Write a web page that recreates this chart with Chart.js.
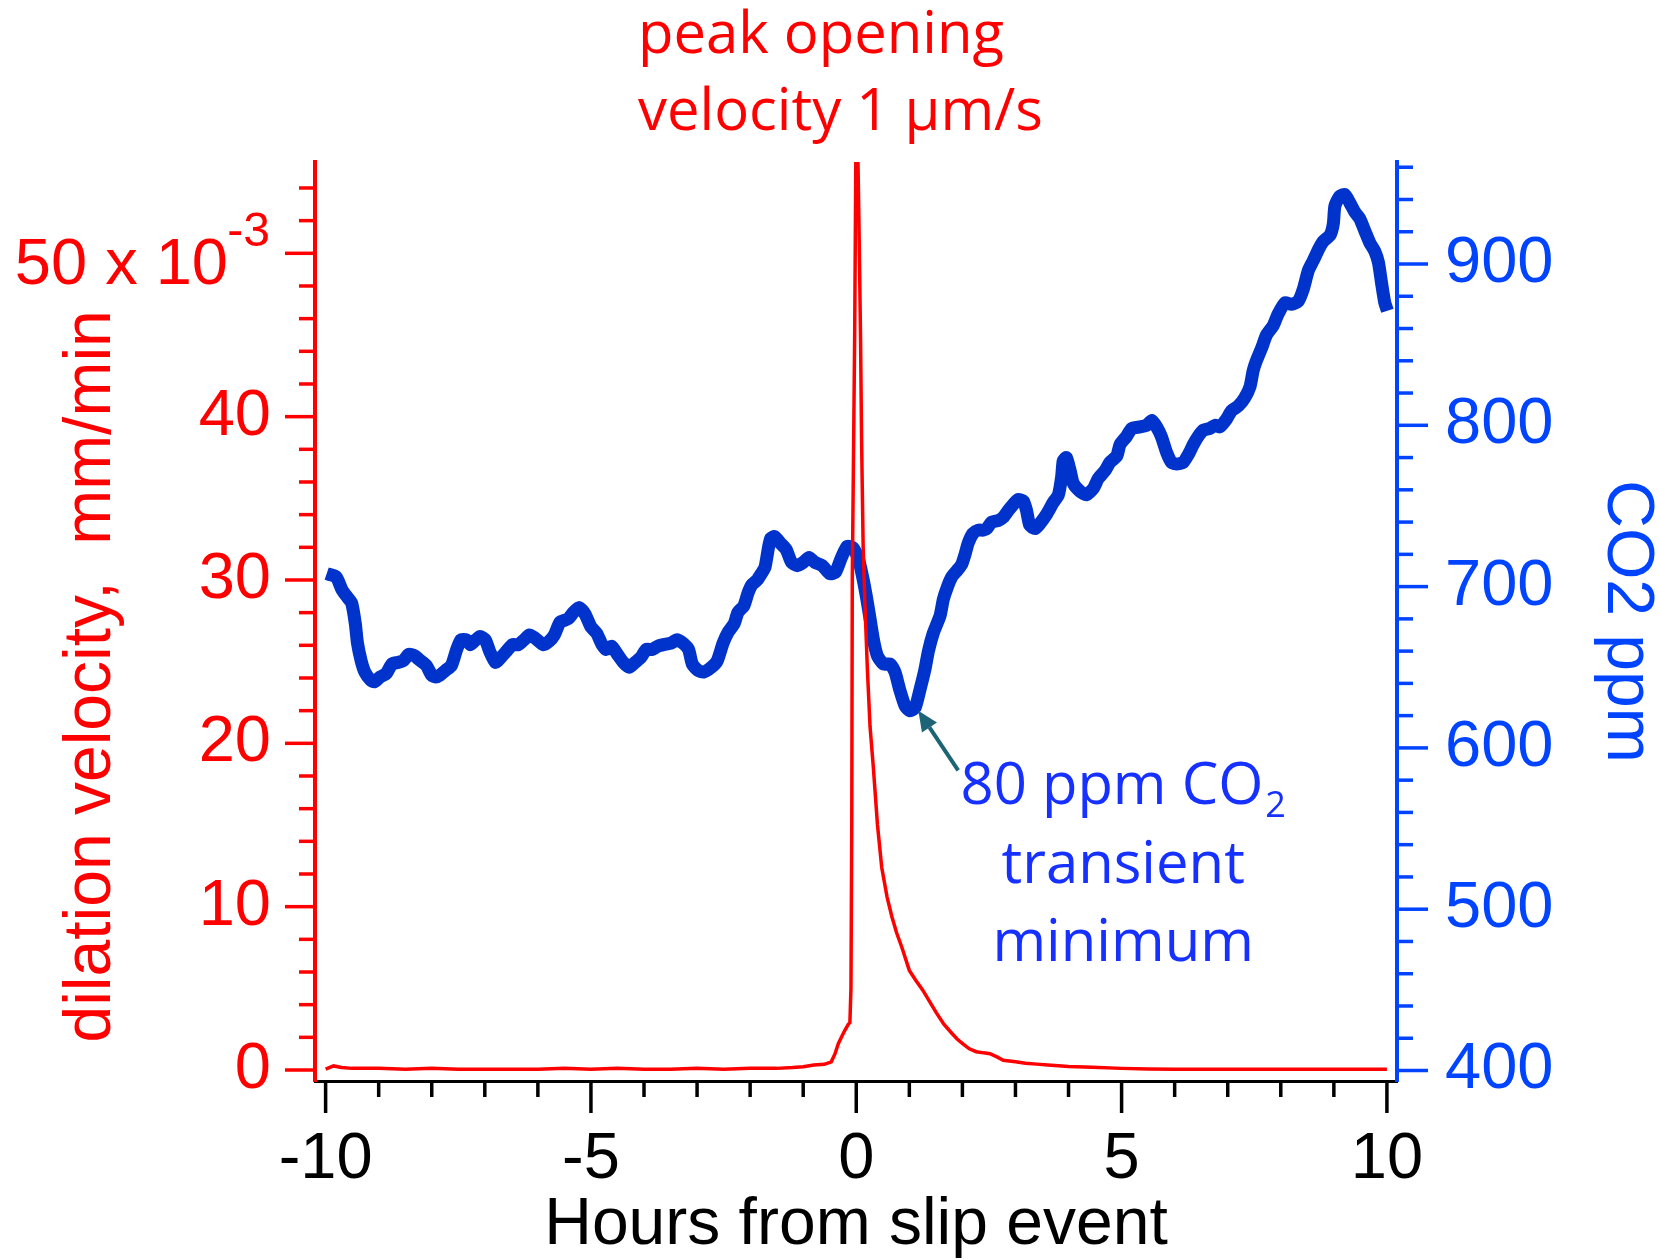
<!DOCTYPE html>
<html>
<head>
<meta charset="utf-8">
<title>Dilation velocity and CO2</title>
<script src="https://cdn.jsdelivr.net/npm/chart.js@4.4.1/dist/chart.umd.min.js"></script>
<style>
  html, body { margin: 0; padding: 0; background: #fff; }
  #grafico { display: block; }
</style>
</head>
<body>
<canvas id="grafico" width="1659" height="1259"></canvas>
<script>
// tick labels
const hourTicks = [-10, -5, 0, 5, 10];
const velocityTicks = [0, 10, 20, 30, 40, 50];
const co2Ticks = [400, 500, 600, 700, 800, 900];

// dilation velocity, x 10^-3 mm/min
const velHours = [
  -10, -9.85, -9.7, -9.5, -9.0, -8.5, -8.0, -7.5, -7.0, -6.5, -6.0, -5.5, -5.0, -4.5,
  -4.0, -3.5, -3.0, -2.5, -2.0, -1.5, -1.2, -1.0, -0.8, -0.6, -0.47, -0.40, -0.34,
  -0.28, -0.22, -0.15, -0.12, -0.10, -0.085, -0.075, -0.03, 0, 0.03, 0.05, 0.08,
  0.10, 0.13, 0.16, 0.21, 0.26, 0.32, 0.40, 0.48, 0.58, 0.67, 0.76, 0.86, 1.00,
  1.12, 1.25, 1.38, 1.51, 1.65, 1.80, 1.90, 2.01, 2.13, 2.26, 2.40, 2.52, 2.65,
  2.77, 3.00, 3.19, 3.40, 3.61, 4.00, 4.45, 5.00, 5.50, 6.00, 6.50, 7.00, 7.50,
  8.00, 8.50, 9.00, 9.50, 10.0
];
const velValues = [
  0.05, 0.25, 0.15, 0.1, 0.1, 0.05, 0.1, 0.05, 0.05, 0.05, 0.05, 0.1, 0.05, 0.1,
  0.05, 0.05, 0.1, 0.05, 0.1, 0.1, 0.15, 0.2, 0.3, 0.35, 0.5, 1.0, 1.6,
  2.0, 2.4, 2.8, 2.9, 5.0, 15, 30, 45, 60, 56, 52, 45,
  38.6, 32, 28.8, 24.5, 21, 18.6, 15, 12.4, 10.6, 9.4, 8.4, 7.5, 6.1,
  5.5, 4.9, 4.2, 3.5, 2.8, 2.25, 1.9, 1.6, 1.3, 1.12, 1.05, 1.0, 0.8,
  0.6, 0.5, 0.42, 0.36, 0.31, 0.22, 0.17, 0.1, 0.06, 0.05, 0.05, 0.05, 0.05,
  0.05, 0.05, 0.05, 0.05, 0.05
];

// CO2 concentration, ppm
const co2Hours = [
  -9.98, -9.80, -9.69, -9.58, -9.51, -9.44, -9.40, -9.33, -9.26, -9.15, -9.08, -8.97,
  -8.86, -8.75, -8.64, -8.54, -8.43, -8.32, -8.21, -8.10, -8.00, -7.92, -7.85, -7.74,
  -7.63, -7.53, -7.45, -7.35, -7.27, -7.17, -7.09, -6.99, -6.91, -6.80, -6.70, -6.59,
  -6.48, -6.37, -6.26, -6.16, -6.05, -5.90, -5.79, -5.69, -5.58, -5.43, -5.33, -5.22,
  -5.11, -5.00, -4.89, -4.79, -4.71, -4.61, -4.50, -4.39, -4.28, -4.17, -4.06, -3.96,
  -3.85, -3.74, -3.63, -3.49, -3.38, -3.27, -3.16, -3.09, -2.98, -2.88, -2.73, -2.62,
  -2.51, -2.41, -2.30, -2.23, -2.12, -2.04, -1.97, -1.87, -1.79, -1.72, -1.65, -1.61,
  -1.54, -1.43, -1.32, -1.22, -1.11, -1.00, -0.89, -0.78, -0.64, -0.50, -0.39, -0.28,
  -0.17, -0.06, 0.05, 0.12, 0.19, 0.26, 0.33, 0.40, 0.51, 0.64, 0.73, 0.82,
  0.92, 1.01, 1.11, 1.20, 1.29, 1.36, 1.45, 1.58, 1.64, 1.72, 1.80, 1.90,
  1.99, 2.05, 2.11, 2.20, 2.30, 2.39, 2.46, 2.55, 2.68, 2.77, 2.86, 2.96,
  3.05, 3.15, 3.21, 3.27, 3.37, 3.46, 3.59, 3.71, 3.81, 3.87, 3.90, 3.96,
  4.03, 4.09, 4.22, 4.34, 4.47, 4.56, 4.69, 4.78, 4.91, 4.97, 5.09, 5.19,
  5.35, 5.47, 5.57, 5.66, 5.75, 5.85, 5.94, 6.04, 6.16, 6.26, 6.35, 6.44,
  6.54, 6.66, 6.76, 6.85, 6.98, 7.07, 7.20, 7.32, 7.42, 7.48, 7.54, 7.64,
  7.73, 7.86, 7.95, 8.08, 8.20, 8.33, 8.42, 8.52, 8.61, 8.71, 8.80, 8.93,
  8.99, 9.02, 9.11, 9.21, 9.30, 9.40, 9.49, 9.59, 9.68, 9.77, 9.84, 9.90,
  9.96, 10.01
];
const co2Values = [
  708, 706, 698, 693, 690, 677, 665, 654, 647, 642, 641, 644,
  646, 652, 653, 654, 658, 657, 654, 651, 645, 644, 645, 648,
  651, 661, 667, 667, 664, 667, 669, 667, 660, 653, 656, 660,
  664, 664, 667, 670, 668, 664, 666, 670, 678, 680, 684, 687,
  683, 675, 671, 664, 661, 663, 658, 653, 650, 653, 656, 661,
  661, 663, 664, 665, 667, 665, 661, 652, 648, 647, 650, 654,
  665, 672, 677, 684, 688, 696, 701, 704, 708, 712, 725, 730,
  731, 727, 723, 715, 713, 715, 718, 715, 713, 708, 709, 718,
  725, 724, 716, 706, 694, 680, 666, 657, 652, 652, 647, 636,
  626, 623, 625, 636, 648, 660, 671, 682, 692, 700, 706, 710,
  714, 720, 727, 733, 735, 735, 736, 740, 741, 743, 747, 751,
  754, 753, 747, 738, 736, 739, 745, 752, 757, 768, 778, 780,
  772, 764, 759, 757, 761, 767, 772, 777, 781, 788, 793, 798,
  799, 800, 803, 799, 793, 783, 777, 776, 777, 782, 788, 793,
  797, 798, 800, 799, 804, 809, 812, 817, 824, 834, 840, 848,
  856, 862, 869, 876, 875, 877, 884, 896, 902, 909, 914, 918,
  925, 936, 942, 943, 938, 932, 928, 920, 913, 908, 901, 888,
  876, 871
];

const ROJO = '#ff0000';
const AZUL_CURVA = '#0033cc';
const AZUL_EJE = '#0044ff';
const AZUL_NOTA = '#1530ff';
const FLECHA = '#1d6477';
const FUENTE_EJES = "'Liberation Sans', Arial, sans-serif";
const FUENTE_NOTAS = "'Open Sans', 'Noto Sans', sans-serif";

(function() {
    Chart.defaults.font.family = FUENTE_EJES;

    function linea(ctx, x1, y1, x2, y2) {
        ctx.beginPath();
        ctx.moveTo(x1, y1);
        ctx.lineTo(x2, y2);
        ctx.stroke();
    }

    // major and minor tick marks on the three axes
    const marcas = {
        id: 'marcas',
        afterDraw(chart) {
            const {ctx, chartArea, scales} = chart;
            ctx.save();
            ctx.lineWidth = 3.5;
            ctx.lineCap = 'butt';

            ctx.strokeStyle = ROJO;
            for (let v = 0; v <= 54; v += 2) {
                const y = scales.yVel.getPixelForValue(v);
                linea(ctx, chartArea.left, y, chartArea.left - (v % 10 === 0 ? 30 : 16), y);
            }

            ctx.strokeStyle = AZUL_EJE;
            for (let v = 400; v <= 960; v += 20) {
                const y = scales.yCo2.getPixelForValue(v);
                linea(ctx, chartArea.right, y, chartArea.right + (v % 100 === 0 ? 31 : 16), y);
            }

            ctx.strokeStyle = '#000';
            for (let h = -10; h <= 10; h++) {
                const x = scales.x.getPixelForValue(h);
                linea(ctx, x, chartArea.bottom, x, chartArea.bottom + (h % 5 === 0 ? 32 : 16));
            }
            ctx.restore();
        }
    };

    // axis title on the left, the 10^-3 label and the text notes
    const notas = {
        id: 'notas',
        afterDraw(chart) {
            const {ctx, chartArea, scales} = chart;
            const {x, yVel, yCo2} = scales;

            ctx.save();
            ctx.fillStyle = ROJO;
            ctx.font = '66px ' + FUENTE_EJES;
            ctx.textBaseline = 'alphabetic';
            ctx.textAlign = 'center';
            ctx.translate(110, yVel.getPixelForValue(24.1));
            ctx.rotate(-Math.PI / 2);
            ctx.fillText('dilation velocity,  mm/min', 0, 0);
            ctx.restore();

            // "50 x 10^-3" replaces the plain 50 label
            ctx.save();
            ctx.fillStyle = ROJO;
            const y50 = yVel.getPixelForValue(50);
            ctx.textAlign = 'right';
            ctx.textBaseline = 'alphabetic';
            ctx.font = '65px ' + FUENTE_EJES;
            ctx.fillText('50 x 10', chartArea.left - 87, y50 + 31);
            ctx.font = '48px ' + FUENTE_EJES;
            ctx.fillText('-3', chartArea.left - 45, y50 - 7);
            ctx.restore();

            // peak note above the plot
            ctx.save();
            ctx.fillStyle = ROJO;
            ctx.font = '58px ' + FUENTE_NOTAS;
            ctx.textAlign = 'left';
            ctx.textBaseline = 'alphabetic';
            ctx.fillText('peak opening', chartArea.left + 323, chartArea.top - 109);
            ctx.fillText('velocity 1 \u00b5m/s', chartArea.left + 323, chartArea.top - 32);
            ctx.restore();

            // arrow to the CO2 minimum
            const cola = [x.getPixelForValue(1.92), yCo2.getPixelForValue(586)];
            const punta = [x.getPixelForValue(1.17), yCo2.getPixelForValue(623)];
            const ang = Math.atan2(punta[1] - cola[1], punta[0] - cola[0]);
            const largo = 20, ancho = 9;
            const base = [punta[0] - largo * Math.cos(ang), punta[1] - largo * Math.sin(ang)];
            ctx.save();
            ctx.strokeStyle = FLECHA;
            ctx.fillStyle = FLECHA;
            ctx.lineWidth = 4;
            linea(ctx, cola[0], cola[1], base[0], base[1]);
            ctx.beginPath();
            ctx.moveTo(punta[0], punta[1]);
            ctx.lineTo(base[0] + ancho * Math.sin(ang), base[1] - ancho * Math.cos(ang));
            ctx.lineTo(base[0] - ancho * Math.sin(ang), base[1] + ancho * Math.cos(ang));
            ctx.closePath();
            ctx.fill();
            ctx.restore();

            // CO2 note
            ctx.save();
            ctx.fillStyle = AZUL_NOTA;
            ctx.textBaseline = 'alphabetic';
            const cx = x.getPixelForValue(5.03);
            ctx.font = '58px ' + FUENTE_NOTAS;
            const ancho1 = ctx.measureText('80 ppm CO').width;
            ctx.font = '36px ' + FUENTE_NOTAS;
            const ancho2 = ctx.measureText('2').width;
            const inicio = cx - (ancho1 + 2 + ancho2) / 2;
            const b1 = yCo2.getPixelForValue(565);
            ctx.textAlign = 'left';
            ctx.font = '58px ' + FUENTE_NOTAS;
            ctx.fillText('80 ppm CO', inicio, b1);
            ctx.font = '36px ' + FUENTE_NOTAS;
            ctx.fillText('2', inicio + ancho1 + 2, b1 + 13);
            ctx.font = '58px ' + FUENTE_NOTAS;
            ctx.textAlign = 'center';
            ctx.fillText('transient', cx, yCo2.getPixelForValue(516));
            ctx.fillText('minimum', cx, yCo2.getPixelForValue(468));
            ctx.restore();
        }
    };

    function crearGrafico() {
        const ctx = document.getElementById('grafico');
        new Chart(ctx, {
            type: 'line',
            data: {
                datasets: [{
                    label: 'dilation velocity',
                    data: velHours.map((h, i) => ({x: h, y: velValues[i]})),
                    yAxisID: 'yVel',
                    borderColor: ROJO,
                    borderWidth: 3.5,
                    pointRadius: 0,
                    tension: 0
                }, {
                    label: 'CO2',
                    data: co2Hours.map((h, i) => ({x: h, y: co2Values[i]})),
                    yAxisID: 'yCo2',
                    borderColor: AZUL_CURVA,
                    borderWidth: 13,
                    borderJoinStyle: 'round',
                    borderCapStyle: 'butt',
                    pointRadius: 0,
                    tension: 0.2
                }]
            },
            options: {
                responsive: false,
                animation: false,
                layout: { padding: { top: 162, left: 0, right: 0, bottom: 0 } },
                plugins: {
                    legend: { display: false },
                    tooltip: { enabled: false }
                },
                scales: {
                    x: {
                        type: 'linear',
                        min: -10.2,
                        max: 10.19,
                        afterBuildTicks: s => { s.ticks = hourTicks.map(v => ({value: v})); },
                        afterFit: s => { s.height = 178; },
                        grid: { display: false, drawTicks: false },
                        border: { color: '#000', width: 3 },
                        ticks: {
                            color: '#000',
                            font: { size: 65 },
                            padding: 40,
                            maxRotation: 0,
                            autoSkip: false,
                            callback: v => String(v)
                        },
                        title: {
                            display: true,
                            text: 'Hours from slip event',
                            color: '#000',
                            font: { size: 66, lineHeight: 1 },
                            padding: { top: 0, bottom: 0 }
                        }
                    },
                    yVel: {
                        type: 'linear',
                        position: 'left',
                        min: -0.673,
                        max: 55.59,
                        afterBuildTicks: s => { s.ticks = velocityTicks.map(v => ({value: v})); },
                        afterFit: s => { s.width = 315; },
                        grid: { display: false, drawTicks: false },
                        border: { color: ROJO, width: 4 },
                        ticks: {
                            color: ROJO,
                            font: { size: 65 },
                            padding: 44,
                            callback: v => (v === 50 ? '' : String(v))
                        }
                    },
                    yCo2: {
                        type: 'linear',
                        position: 'right',
                        min: 393.49,
                        max: 963.24,
                        afterBuildTicks: s => { s.ticks = co2Ticks.map(v => ({value: v})); },
                        afterFit: s => { s.width = 262; },
                        grid: { display: false, drawTicks: false },
                        border: { color: AZUL_EJE, width: 4 },
                        ticks: {
                            color: AZUL_EJE,
                            font: { size: 65 },
                            padding: 48,
                            callback: v => String(v)
                        },
                        title: {
                            display: true,
                            text: 'CO2 ppm',
                            color: AZUL_EJE,
                            font: { size: 66, lineHeight: 1 },
                            padding: { top: 0, bottom: 0 }
                        }
                    }
                }
            },
            plugins: [marcas, notas]
        });
    }

    crearGrafico();
})();
</script>
</body>
</html>
